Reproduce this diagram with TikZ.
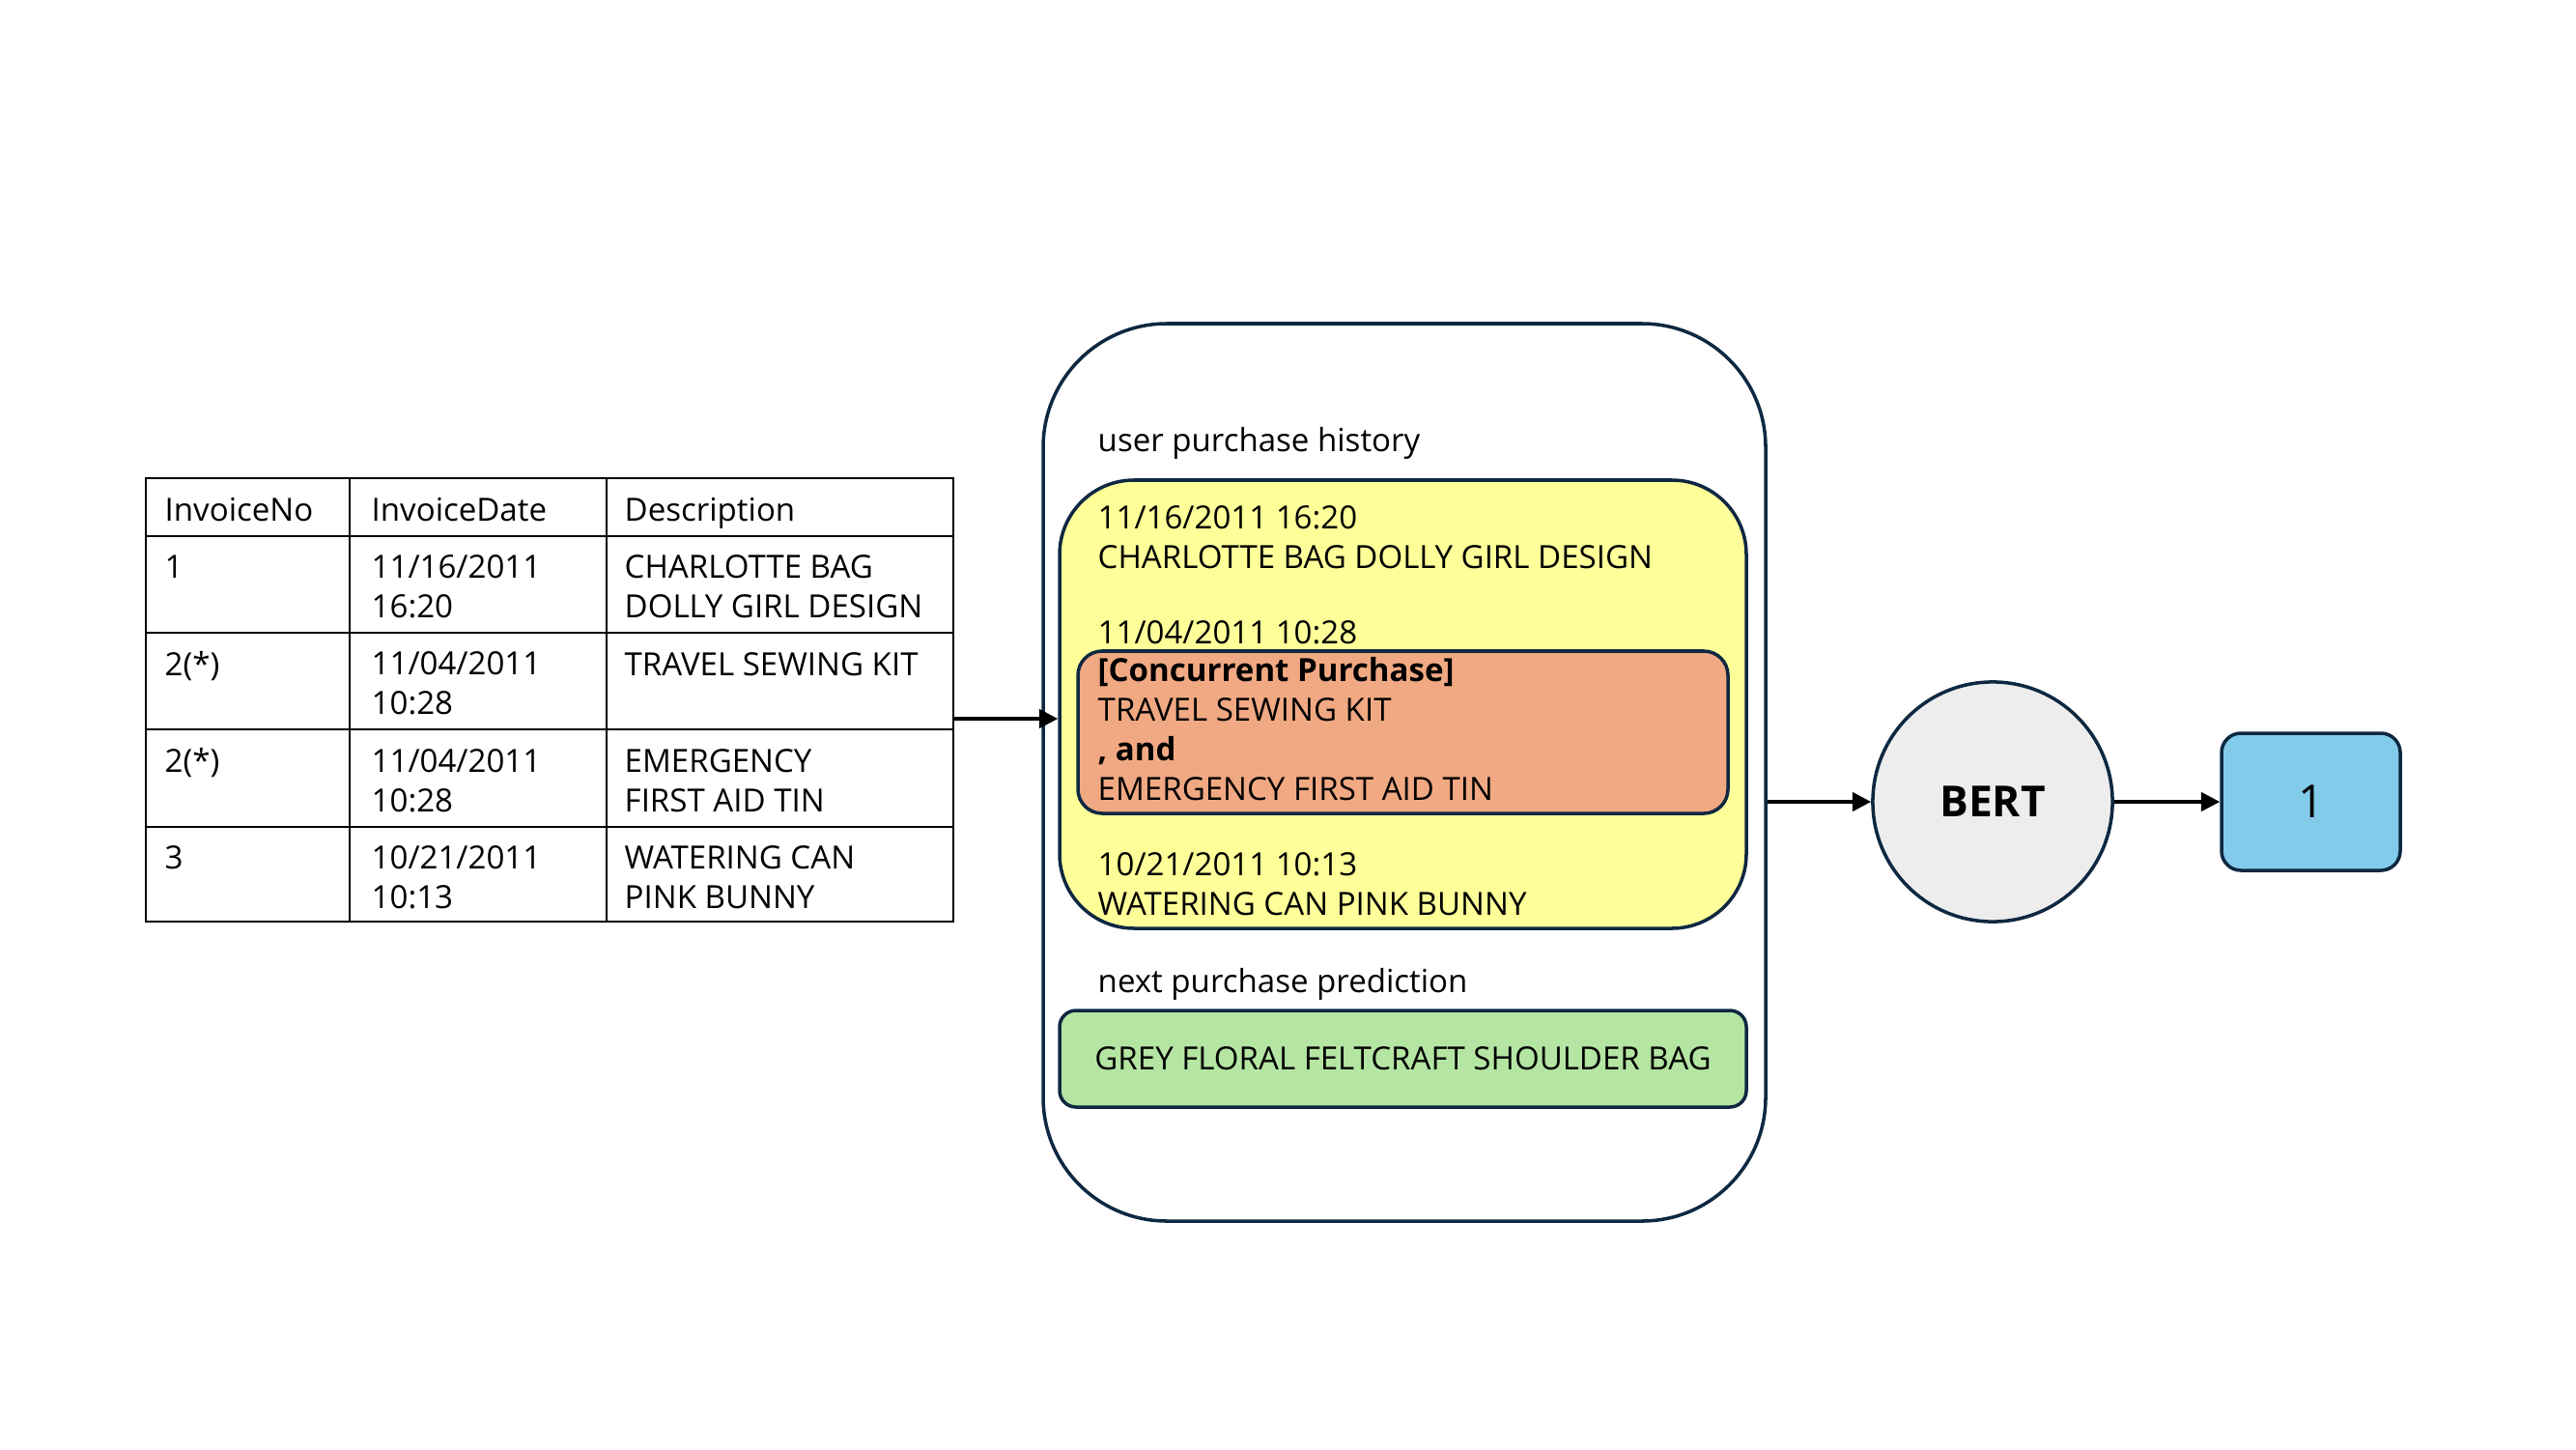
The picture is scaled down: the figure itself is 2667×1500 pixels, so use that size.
\documentclass[tikz,border=0pt]{standalone}
\usepackage{fontspec}
\setmainfont{Open Sans}
\usetikzlibrary{arrows.meta,calc,fit}
\definecolor{edge}{HTML}{0E2841}
\definecolor{histfill}{HTML}{FFFF99}
\definecolor{concfill}{HTML}{F1A983}
\definecolor{predfill}{HTML}{B4E5A2}
\definecolor{outfill}{HTML}{83CBEB}
\definecolor{bertfill}{HTML}{EDEDED}
\tikzset{
  % multi-line text: the node's base is the baseline of its last line
  txt/.style={anchor=base west, inner sep=0pt, align=left},
  cell/.style={txt},
  panel/.style={draw=edge, line width=1pt, inner sep=0pt},
  link/.style={line width=1pt, -{Triangle[length=5.5pt,width=5.5pt]}},
  grid line/.style={line width=0.8pt}
}
\begin{document}
\begin{tikzpicture}[x=0.01cm, y=-0.01cm, font=\fontsize{9.4}{11.6}\selectfont]
\useasboundingbox (0,0) rectangle (2667,1500);

% ---- invoice table ----
\node (table) [draw, grid line, inner sep=0pt, fit={(151,495) (987,954)}] {};
\draw[grid line] (362,495) -- (362,954) (628,495) -- (628,954);
\foreach \y in {555,655,755,856} \draw[grid line] (151,\y) -- (987,\y);

\node[cell] (h1) at (170,539) {InvoiceNo};
\node[cell] (h2) at (384,539) {InvoiceDate};
\node[cell] (h3) at (646,539) {Description};

\node[cell] (r1a) at (170,598) {1};
\node[cell] (r1b) at (384,639) {11/16/2011\\16:20};
\node[cell] (r1c) at (646,639) {CHARLOTTE BAG\\DOLLY GIRL DESIGN};

\node[cell] (r2a) at (170,699) {2(*)};
\node[cell] (r2b) at (384,739) {11/04/2011\\10:28};
\node[cell] (r2c) at (646,699) {TRAVEL SEWING KIT};

\node[cell] (r3a) at (170,799) {2(*)};
\node[cell] (r3b) at (384,840) {11/04/2011\\10:28};
\node[cell] (r3c) at (646,840) {EMERGENCY\\FIRST AID TIN};

\node[cell] (r4a) at (170,899) {3};
\node[cell] (r4b) at (384,940) {10/21/2011\\10:13};
\node[cell] (r4c) at (646,940) {WATERING CAN\\PINK BUNNY};

% ---- input sequence panel ----
\node (frame) [panel, rounded corners=1.28cm, fit={(1080,335) (1828,1264)}] {};
\node[txt] (histlabel) at (1136,467) {user purchase history};

\node (hist) [panel, fill=histfill, rounded corners=0.77cm, fit={(1097,497) (1808,961)}] {};
\node[txt] (d1) at (1136,588) {11/16/2011 16:20\\CHARLOTTE BAG DOLLY GIRL DESIGN};
\node[txt] (d2) at (1136,666) {11/04/2011 10:28};

\node (conc) [panel, fill=concfill, rounded corners=0.25cm, fit={(1116,674) (1789,842)}] {};
\node[txt] (c1) at (1136,828) {\textbf{[Concurrent Purchase]}\\TRAVEL SEWING KIT\\\textbf{, and}\\EMERGENCY FIRST AID TIN};

\node[txt] (d3) at (1136,947) {10/21/2011 10:13\\WATERING CAN PINK BUNNY};

\node[txt] (predlabel) at (1136,1027) {next purchase prediction};
\node (pred) [panel, fill=predfill, rounded corners=0.17cm, fit={(1097,1046) (1808,1146)}] {};
\node (predtext) at (pred.center) {GREY FLORAL FELTCRAFT SHOULDER BAG};

% ---- model and output ----
\node (bert) [panel, circle, fill=bertfill, minimum size=2.48cm, font=\fontsize{12.6}{15}\selectfont\bfseries] at (2063,830) {BERT};
\node (out) [panel, fill=outfill, rounded corners=0.2cm, fit={(2300,759) (2485,901)}] {};
\node (outtext) [font=\fontsize{13.4}{16}\selectfont] at (out.center) {1};

% ---- connectors ----
\coordinate (tin) at ($(table.east)+(0,19.5)$);
\draw[link] (tin) -- (tin -| hist.west);
\draw[link] (frame.east |- bert.west) -- (bert.west);
\draw[link] (bert.east) -- (out.west);
\end{tikzpicture}
\end{document}
